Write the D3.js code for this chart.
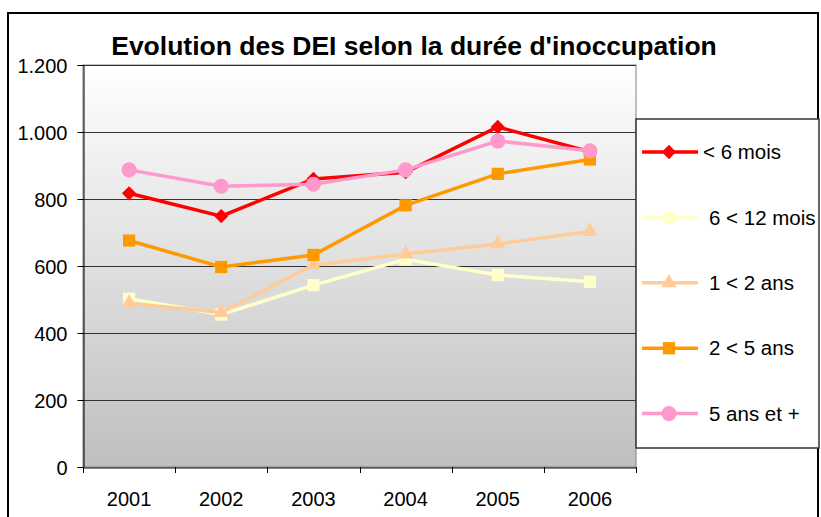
<!DOCTYPE html>
<html>
<head>
<meta charset="utf-8">
<script src="https://cdn.jsdelivr.net/npm/d3@7"></script>
<style>
  body { margin: 0; background: #fff; }
  text { font-family: Arial, "Liberation Sans", sans-serif; fill: #000; }
</style>
</head>
<body>
<script>
var years = ["2001", "2002", "2003", "2004", "2005", "2006"];
var seriesNames = ["< 6 mois", "6 < 12 mois", "1 < 2 ans", "2 < 5 ans", "5 ans et +"];
var seriesColors = ["#ff0000", "#ffffcc", "#ffcc99", "#ff9900", "#ff99cc"];
var seriesSymbols = ["diamond", "square", "triangle", "square", "circle"];
var lessThan6 = [817, 749, 860, 880, 1015, 941];
var from6To12 = [502, 455, 543, 620, 573, 553];
var from1To2 = [489, 461, 603, 636, 666, 703];
var from2To5 = [676, 597, 633, 781, 875, 918];
var over5 = [887, 838, 844, 887, 973, 944];
var yTicks = [0, 200, 400, 600, 800, 1000, 1200];

var seriesValues = [lessThan6, from6To12, from1To2, from2To5, over5];

var width = 821, height = 517;
var plot = {left: 83, top: 65, right: 636, bottom: 467};

var svg = d3.select("body").append("svg")
    .attr("width", width)
    .attr("height", height);

var fr = d3.formatLocale({decimal: ",", thousands: ".", grouping: [3], currency: ["", " €"]});
var fmt = fr.format(",d");

var x = d3.scaleBand().domain(years).range([plot.left, plot.right]);
var y = d3.scaleLinear().domain([0, 1200]).range([plot.bottom, plot.top]);

// outer chart border
svg.append("rect")
    .attr("x", 8).attr("y", 13)
    .attr("width", 810).attr("height", 520)
    .attr("fill", "none")
    .attr("stroke", "#000")
    .attr("stroke-width", 2);

// plot background gradient
var grad = svg.append("defs").append("linearGradient")
    .attr("id", "bg").attr("x1", 0).attr("y1", 0).attr("x2", 0).attr("y2", 1);
grad.append("stop").attr("offset", "0%").attr("stop-color", "#ffffff");
grad.append("stop").attr("offset", "100%").attr("stop-color", "#bfbfbf");

svg.append("rect")
    .attr("x", plot.left).attr("y", plot.top)
    .attr("width", plot.right - plot.left).attr("height", plot.bottom - plot.top)
    .attr("fill", "url(#bg)")
    .attr("stroke", "#808080")
    .attr("stroke-width", 1);

// gridlines
svg.append("g").selectAll("line")
    .data(yTicks.slice(1))
    .join("line")
    .attr("x1", plot.left).attr("x2", plot.right)
    .attr("y1", function(d) { return Math.round(y(d)) + 0.5; })
    .attr("y2", function(d) { return Math.round(y(d)) + 0.5; })
    .attr("stroke", "#333")
    .attr("stroke-width", 1);

// y axis
var yAxis = svg.append("g")
    .attr("transform", "translate(" + (plot.left + 0.5) + ",0)")
    .call(d3.axisLeft(y).tickValues(yTicks).tickFormat(fmt).tickSize(6).tickPadding(10));
yAxis.select(".domain").attr("stroke", "#000");
yAxis.selectAll("text").style("font-size", "20px").attr("dy", "0.35em");

// x axis
var xAxis = svg.append("g")
    .attr("transform", "translate(0," + (plot.bottom + 0.5) + ")")
    .call(d3.axisBottom(x).tickSize(0).tickPadding(24));
xAxis.select(".domain").attr("stroke", "#000");
xAxis.selectAll("text").style("font-size", "20px");
// ticks between categories
svg.append("g").selectAll("line")
    .data(years.concat(["end"]))
    .join("line")
    .attr("x1", function(d, i) { return Math.round(plot.left + i * x.step()) + 0.5; })
    .attr("x2", function(d, i) { return Math.round(plot.left + i * x.step()) + 0.5; })
    .attr("y1", plot.bottom).attr("y2", plot.bottom + 6)
    .attr("stroke", "#000");

// title
svg.append("text")
    .attr("x", 414).attr("y", 55)
    .attr("text-anchor", "middle")
    .style("font-size", "26.5px")
    .style("font-weight", "bold")
    .text("Evolution des DEI selon la durée d'inoccupation");

function symbolPath(name, size) {
  var t = name == "diamond" ? d3.symbolDiamond2
    : name == "square" ? d3.symbolSquare2
    : name == "triangle" ? d3.symbolTriangle2
    : d3.symbolCircle;
  return d3.symbol().type(t).size(size)();
}
var symbolSizes = {diamond: 130, square: 190, triangle: 170, circle: 180};

var line = d3.line()
    .x(function(d, i) { return x(years[i]) + x.bandwidth() / 2; })
    .y(function(d) { return y(d); });

// series lines and markers
seriesValues.forEach(function(vals, s) {
  var g = svg.append("g");
  g.append("path")
    .attr("d", line(vals))
    .attr("fill", "none")
    .attr("stroke", seriesColors[s])
    .attr("stroke-width", 3.5);
  g.selectAll("path.m")
    .data(vals)
    .join("path")
    .attr("class", "m")
    .attr("transform", function(d, i) {
      return "translate(" + (x(years[i]) + x.bandwidth() / 2) + "," + y(d) + ")";
    })
    .attr("d", symbolPath(seriesSymbols[s], symbolSizes[seriesSymbols[s]]))
    .attr("fill", seriesColors[s]);
});

// legend
var legend = svg.append("g");
legend.append("rect")
    .attr("x", plot.right).attr("y", 119)
    .attr("width", 819 - plot.right).attr("height", 448 - 119)
    .attr("fill", "#fff")
    .attr("stroke", "#333")
    .attr("stroke-width", 1.5);

var item = legend.selectAll("g.item")
    .data(seriesNames)
    .join("g")
    .attr("class", "item")
    .attr("transform", function(d, i) { return "translate(0," + (152 + i * 65.4) + ")"; });
item.append("line")
    .attr("x1", 642).attr("x2", 698)
    .attr("stroke", function(d, i) { return seriesColors[i]; })
    .attr("stroke-width", 3.5);
item.append("path")
    .attr("transform", "translate(669,0)")
    .attr("d", function(d, i) { return symbolPath(seriesSymbols[i], symbolSizes[seriesSymbols[i]]); })
    .attr("fill", function(d, i) { return seriesColors[i]; });
item.append("text")
    .attr("x", function(d, i) { return i == 0 ? 703 : 709; })
    .attr("dy", "0.35em")
    .style("font-size", "20.5px")
    .text(function(d) { return d; });
</script>
</body>
</html>
